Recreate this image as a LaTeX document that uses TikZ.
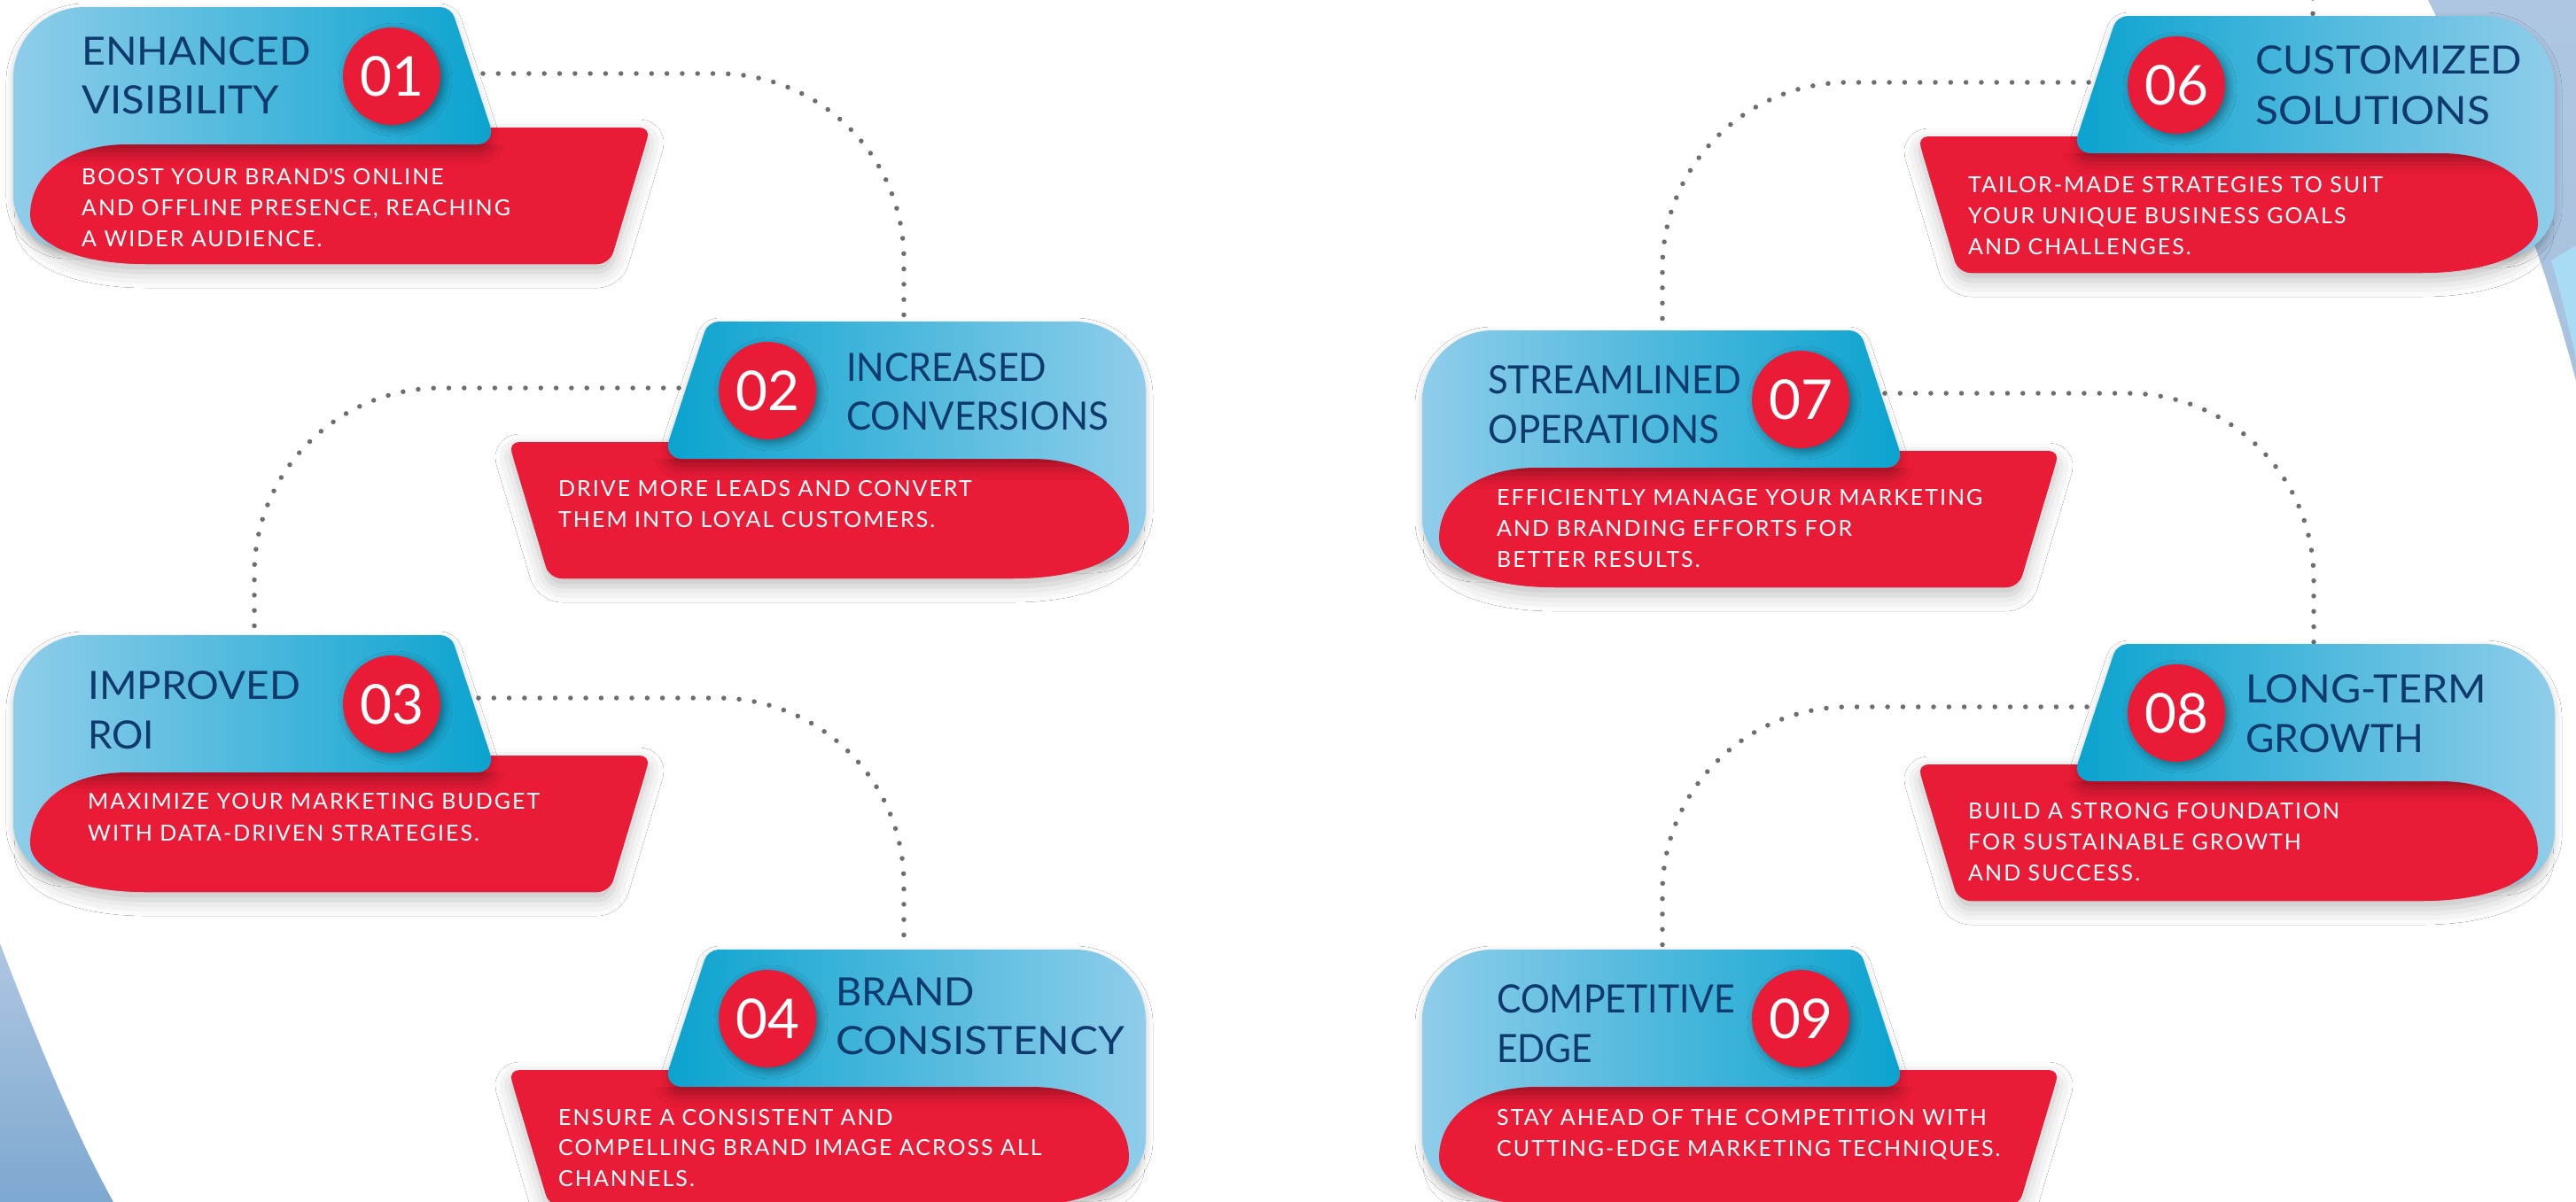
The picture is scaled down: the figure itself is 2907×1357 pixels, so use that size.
\documentclass[tikz,border=0pt]{standalone}
\usepackage{fontspec}
\setmainfont{Lato}
\newfontfamily\titlefam{Lato}
\newfontfamily\bodyfam{Lato}[LetterSpace=8]
\newfontfamily\numfam{Lato}
\usetikzlibrary{shadows.blur,fadings}
\definecolor{cardred}{HTML}{EA1B37}
\definecolor{bluelight}{HTML}{8FCDEA}
\definecolor{bluedark}{HTML}{0AA3CF}
\definecolor{navy}{HTML}{0F3A6E}
\definecolor{dotgray}{HTML}{6D6E71}
\definecolor{steel}{HTML}{AEC6E1}
\definecolor{steeldark}{HTML}{7DA8D0}
\definecolor{skyl}{HTML}{A8DCF5}
\newcommand\tw[2]{\resizebox{#1pt}{\height}{#2}}
\def\redp{(130,155) -- (505,155) -- (505,136) -- (707,136) .. controls (713.6,136) and (717.5,141.2) .. (715.6,147.5) -- (677,276.6) .. controls (674.8,284) and (666.7,290) .. (659,290) -- (150,290) .. controls (70,290) and (19,265) .. (19,235) .. controls (19,190) and (60,155) .. (130,155) -- cycle}
\def\bluep{(0,80) .. controls (0,36) and (36,0) .. (80,0) -- (482,0) .. controls (488.6,0) and (495.7,5.1) .. (497.8,11.4) -- (538.1,134.1) .. controls (541.9,145.6) and (535.1,155) .. (523,155) -- (185,155) -- (185,272) -- (60,272) .. controls (27,272) and (0,245) .. (0,212) -- cycle}
\def\bluetop{(0,80) .. controls (0,36) and (36,0) .. (80,0) -- (482,0) .. controls (488.6,0) and (495.7,5.1) .. (497.8,11.4) -- (538.1,134.1) .. controls (541.9,145.6) and (535.1,155) .. (523,155) -- (0,155) -- cycle}
\newcommand\drawcard[4]{%
  \fill[cardred, cardshadow] \redp;
  \shade[left color=#1, right color=#2, blueshadow] \bluep;
  \begin{scope}
    \clip (-10,155) rectangle (760,330);
    \clip \redp;
    \fill[cardred] (-10,155) rectangle (760,330);
    \fill[cardred, foldshadow] \bluetop;
  \end{scope}
  \node[numdisc] (n#4) at (427,78) {#3};
}
\begin{document}
\begin{tikzpicture}[x=1pt,y=-1pt,
  cardshadow/.style={blur shadow={shadow xshift=0pt, shadow yshift=-9pt, shadow blur radius=18pt, shadow opacity=25}},
  blueshadow/.style={blur shadow={shadow xshift=0pt, shadow yshift=-4pt, shadow blur radius=8pt, shadow opacity=22}},
  foldshadow/.style={blur shadow={shadow xshift=0pt, shadow yshift=-7pt, shadow blur radius=16pt, shadow opacity=38}},
  numdisc/.style={circle, fill=cardred, minimum size=110pt, inner sep=0pt, text=white,
     font=\numfam\fontsize{62}{62}\selectfont,
     blur shadow={shadow xshift=4pt, shadow yshift=-4pt, shadow blur radius=9pt, shadow opacity=40}},
  ttl/.style={anchor=base west, inner sep=0pt, text=navy, font=\titlefam\fontsize{44}{44}\selectfont},
  bdy/.style={anchor=base west, inner sep=0pt, text=white, font=\bodyfam\fontsize{25}{25}\selectfont},
  dotline/.style={draw=dotgray, line width=5.5pt, line cap=round, dash pattern=on 0pt off 17.3pt, rounded corners=210pt}]
\useasboundingbox (0,0) rectangle (2907,1357);
\fill[white] (0,0) rectangle (2907,1357);
% background decorations
\shade[top color=steel, bottom color=steeldark] (0,1065) .. controls (40,1170) and (85,1280) .. (128,1357) -- (0,1357) -- cycle;
\shade[top color=steel, bottom color=steel!85!steeldark] (2740,0) .. controls (2800,120) and (2860,250) .. (2907,430) -- (2907,0) -- cycle;
\fill[skyl] (2879,294) -- (2907,277) -- (2907,405) .. controls (2898,365) and (2889,328) .. (2879,294) -- cycle;
% connectors
\coordinate (o1) at (545,83);   \coordinate (i2) at (1020,363);
\coordinate (o2) at (766,438);  \coordinate (i3) at (287,717);
\coordinate (o3) at (540,788);  \coordinate (i4) at (1020,1072);
\coordinate (o5) at (2610,-2);  \coordinate (i6) at (2610,18);
\coordinate (o6) at (2357,93);  \coordinate (i7) at (1876,373);
\coordinate (o7) at (2127,444); \coordinate (i8) at (2611,727);
\coordinate (o8) at (2355,798); \coordinate (i9) at (1876,1072);
\draw[dotline] (o1) -| (i2);
\draw[dotline] (o2) -| (i3);
\draw[dotline] (o3) -| (i4);
\draw[dotline] (o5) -- (i6);
\draw[dotline] (o6) -| (i7);
\draw[dotline] (o7) -| (i8);
\draw[dotline] (o8) -| (i9);
% cards
\begin{scope}[shift={(15,8)}]\drawcard{bluelight}{bluedark}{01}{1}\end{scope}
\begin{scope}[shift={(1293,363)}, xscale=-1]\drawcard{bluedark}{bluelight}{02}{2}\end{scope}
\begin{scope}[shift={(15,717)}]\drawcard{bluelight}{bluedark}{03}{3}\end{scope}
\begin{scope}[shift={(1293,1072)}, xscale=-1]\drawcard{bluedark}{bluelight}{04}{4}\end{scope}
\begin{scope}[shift={(2883,18)}, xscale=-1]\drawcard{bluedark}{bluelight}{06}{6}\end{scope}
\begin{scope}[shift={(1605,373)}]\drawcard{bluelight}{bluedark}{07}{7}\end{scope}
\begin{scope}[shift={(2883,727)}, xscale=-1]\drawcard{bluedark}{bluelight}{08}{8}\end{scope}
\begin{scope}[shift={(1605,1072)}]\drawcard{bluelight}{bluedark}{09}{9}\end{scope}
% texts
\node[ttl] (t1a) at (92,73) {\tw{259}{ENHANCED}};
\node[ttl] (t1b) at (92,128) {\tw{223}{VISIBILITY}};
\node[bdy] (b1a) at (92,208) {BOOST YOUR BRAND\textquotesingle S ONLINE};
\node[bdy] (b1b) at (92,243) {AND OFFLINE PRESENCE, REACHING};
\node[bdy] (b1c) at (92,278) {A WIDER AUDIENCE.};
\node[ttl] (t2a) at (955,430) {\tw{226}{INCREASED}};
\node[ttl] (t2b) at (955,485) {\tw{296}{CONVERSIONS}};
\node[bdy] (b2a) at (630,560) {DRIVE MORE LEADS AND CONVERT};
\node[bdy] (b2b) at (630,595) {THEM INTO LOYAL CUSTOMERS.};
\node[ttl] (t3a) at (99,789) {\tw{240}{IMPROVED}};
\node[ttl] (t3b) at (99,845) {\tw{75}{ROI}};
\node[bdy] (b3a) at (99,913) {MAXIMIZE YOUR MARKETING BUDGET};
\node[bdy] (b3b) at (99,949) {WITH DATA-DRIVEN STRATEGIES.};
\node[ttl] (t4a) at (943,1135) {\tw{157}{BRAND}};
\node[ttl] (t4b) at (943,1190) {\tw{326}{CONSISTENCY}};
\node[bdy] (b4a) at (630,1270) {ENSURE A CONSISTENT AND};
\node[bdy] (b4b) at (630,1304) {COMPELLING BRAND IMAGE ACROSS ALL};
\node[bdy] (b4c) at (630,1339) {CHANNELS.};
\node[ttl] (t6a) at (2545,83) {\tw{301}{CUSTOMIZED}};
\node[ttl] (t6b) at (2545,140) {\tw{265}{SOLUTIONS}};
\node[bdy] (b6a) at (2221,217) {TAILOR-MADE STRATEGIES TO SUIT};
\node[bdy] (b6b) at (2221,252) {YOUR UNIQUE BUSINESS GOALS};
\node[bdy] (b6c) at (2221,287) {AND CHALLENGES.};
\node[ttl] (t7a) at (1679,444) {\tw{286}{STREAMLINED}};
\node[ttl] (t7b) at (1679,500) {\tw{261}{OPERATIONS}};
\node[bdy] (b7a) at (1689,570) {EFFICIENTLY MANAGE YOUR MARKETING};
\node[bdy] (b7b) at (1689,605) {AND BRANDING EFFORTS FOR};
\node[bdy] (b7c) at (1689,640) {BETTER RESULTS.};
\node[ttl] (t8a) at (2534,793) {\tw{272}{LONG-TERM}};
\node[ttl] (t8b) at (2534,849) {\tw{201}{GROWTH}};
\node[bdy] (b8a) at (2221,924) {BUILD A STRONG FOUNDATION};
\node[bdy] (b8b) at (2221,959) {FOR SUSTAINABLE GROWTH};
\node[bdy] (b8c) at (2221,994) {AND SUCCESS.};
\node[ttl] (t9a) at (1689,1143) {\tw{269}{COMPETITIVE}};
\node[ttl] (t9b) at (1689,1199) {\tw{108}{EDGE}};
\node[bdy] (b9a) at (1689,1270) {STAY AHEAD OF THE COMPETITION WITH};
\node[bdy] (b9b) at (1689,1305) {CUTTING-EDGE MARKETING TECHNIQUES.};
\end{tikzpicture}
\end{document}
